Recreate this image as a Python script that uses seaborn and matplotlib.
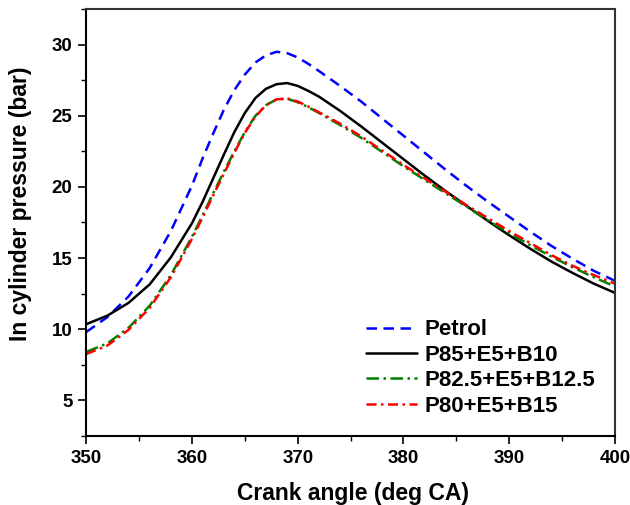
import matplotlib
matplotlib.use("Agg")
import matplotlib.pyplot as plt
import seaborn as sns
import numpy as np
from matplotlib.ticker import MultipleLocator

crank_angle = [350, 352, 354, 356, 358, 360, 361, 362, 363, 364, 365, 366, 367, 368, 369,
               370, 371, 372, 374, 376, 378, 380, 382, 384, 386, 388, 390, 392, 394, 396, 398, 400]

petrol = [9.8, 10.85, 12.3, 14.3, 16.9, 20.1, 22.0, 23.75, 25.4, 26.8, 27.9, 28.75, 29.25, 29.5, 29.4,
          29.1, 28.65, 28.15, 27.1, 26.0, 24.8, 23.6, 22.4, 21.2, 20.05, 18.95, 17.9, 16.85, 15.85, 14.95, 14.1, 13.4]

p85_e5_b10 = [10.35, 10.95, 11.85, 13.15, 15.05, 17.45, 18.95, 20.6, 22.25, 23.85, 25.2, 26.25, 26.9, 27.22, 27.3,
              27.1, 26.75, 26.35, 25.35, 24.25, 23.1, 21.95, 20.8, 19.7, 18.65, 17.6, 16.6, 15.65, 14.75, 13.95, 13.2, 12.55]

p825_e5_b125 = [8.4, 9.0, 10.1, 11.65, 13.8, 16.5, 18.0, 19.55, 21.05, 22.5, 23.85, 25.0, 25.75, 26.15, 26.2,
                25.95, 25.6, 25.2, 24.35, 23.45, 22.45, 21.45, 20.5, 19.55, 18.6, 17.65, 16.75, 15.9, 15.1, 14.35, 13.65, 13.0]

p80_e5_b15 = [8.25, 8.85, 9.95, 11.5, 13.65, 16.35, 17.85, 19.4, 20.9, 22.4, 23.8, 24.95, 25.75, 26.15, 26.22,
              26.0, 25.65, 25.25, 24.45, 23.55, 22.55, 21.55, 20.6, 19.65, 18.7, 17.8, 16.9, 16.05, 15.2, 14.45, 13.8, 13.2]

labels = ["Petrol", "P85+E5+B10", "P82.5+E5+B12.5", "P80+E5+B15"]
x_ticks = [350, 360, 370, 380, 390, 400]
y_ticks = [5, 10, 15, 20, 25, 30]

sns.set_style("white")
plt.rcParams['font.family'] = ['Liberation Sans', 'DejaVu Sans']
plt.rcParams['font.weight'] = 'bold'
for k in ['text.color', 'axes.labelcolor', 'xtick.color', 'ytick.color', 'axes.edgecolor']:
    plt.rcParams[k] = 'black'

fig = plt.figure(figsize=(6.3, 5.05), dpi=100)
ax = fig.add_axes([0.137, 0.137, 0.839, 0.845])

series = [petrol, p85_e5_b10, p825_e5_b125, p80_e5_b15]
colors = ["#0000ff", "#000000", "#008000", "#ff0000"]
styles = [(0, (4.2, 2.6)), "-", (0, (5, 1.8, 1, 1.8)), (0, (4, 1.8, 1, 1.8))]

for vals, lab, col, ls in zip(series, labels, colors, styles):
    sns.lineplot(x=crank_angle, y=vals, ax=ax, color=col, linestyle=ls,
                 linewidth=1.8, label=lab, sort=False)

ax.set_xlim(350, 400)
ax.set_ylim(2.5, 32.5)
ax.set_xticks(x_ticks)
ax.set_yticks(y_ticks)
ax.xaxis.set_minor_locator(MultipleLocator(5))
ax.yaxis.set_minor_locator(MultipleLocator(2.5))
ax.tick_params(axis='both', which='major', direction='out', length=6, width=1.2,
               labelsize=13.5, colors='black', bottom=True, left=True, pad=4)
ax.tick_params(axis='both', which='minor', direction='out', length=3.5, width=1.0,
               colors='black', bottom=True, left=True)
for lbl in ax.get_xticklabels() + ax.get_yticklabels():
    lbl.set_fontweight('bold')

for side in ['left', 'bottom']:
    ax.spines[side].set_linewidth(1.5)
    ax.spines[side].set_color('black')
for side in ['top', 'right']:
    ax.spines[side].set_linewidth(1.5)
    ax.spines[side].set_color('#333333')

ax.set_xlabel("Crank angle (deg CA)", fontsize=16.5, fontweight='bold', labelpad=10, color='black')
ax.set_ylabel("In cylinder pressure (bar)", fontsize=16.5, fontweight='bold', labelpad=10, color='black')
ax.xaxis.set_label_coords(0.504, -0.108)
ax.yaxis.set_label_coords(-0.103, 0.543)

leg = ax.legend(loc='lower right', bbox_to_anchor=(0.962, 0.045), frameon=False,
                fontsize=16, handlelength=2.3, handletextpad=0.3, labelspacing=0.2,
                borderaxespad=0, borderpad=0)
for t in leg.get_texts():
    t.set_fontweight('bold')
    t.set_color('black')

fig.savefig("out.png", dpi=100)
